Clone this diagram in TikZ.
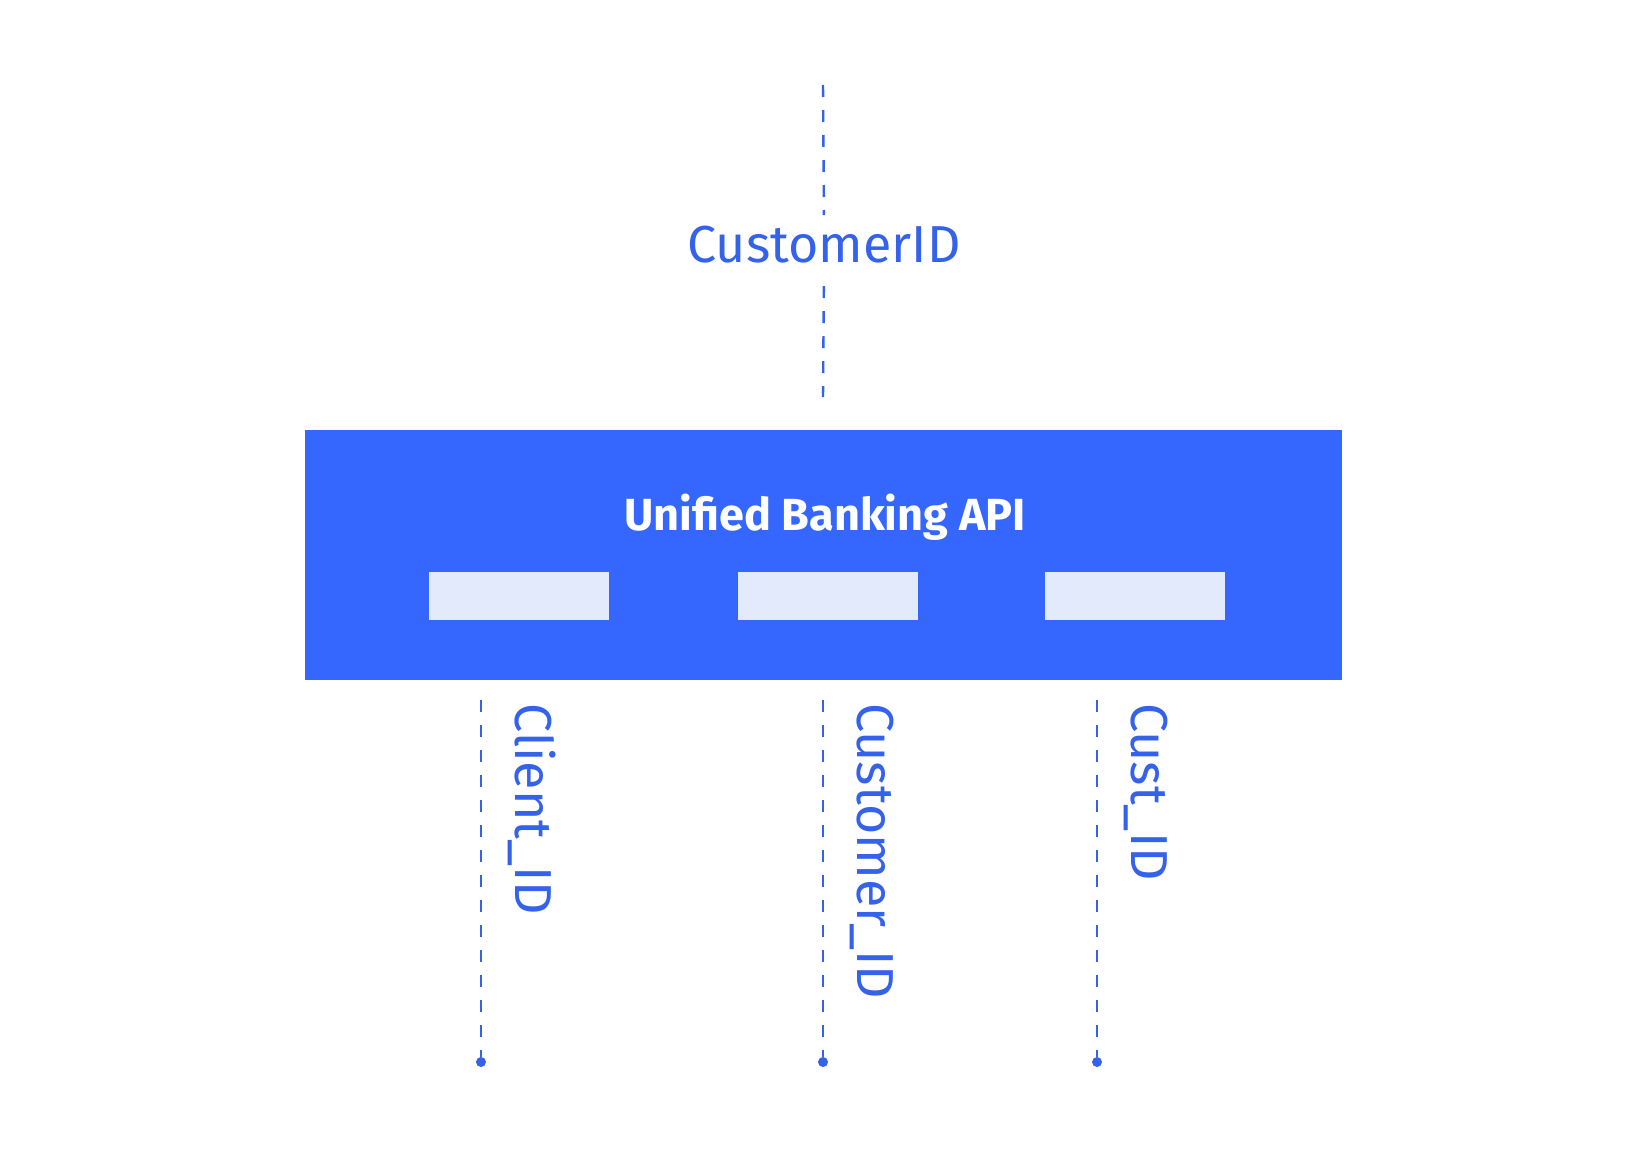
\documentclass[tikz,border=0pt]{standalone}
\usepackage{fontspec}
\setmainfont{Fira Sans}
\usetikzlibrary{positioning, calc}
\definecolor{apiblue}{HTML}{3567FF}
\definecolor{idblue}{HTML}{3462EA}
\definecolor{slotgray}{HTML}{E3EAFB}

\begin{document}
\begin{tikzpicture}[x=0.5pt, y=-0.5pt,
    idline/.style={draw=idblue, line width=1.2pt, dash pattern=on 6pt off 6.5pt},
    idlabel/.style={text=idblue, font=\fontsize{26}{31}\selectfont, inner sep=0pt},
    slot/.style={fill=slotgray, minimum width=90pt, minimum height=24pt, inner sep=0pt},
    enddot/.style={circle, fill=idblue, minimum size=5pt, inner sep=0pt}]
  \useasboundingbox (0,0) rectangle (1647,1151);
  % the API block
  \node[fill=apiblue, minimum width=518.5pt, minimum height=125pt, inner sep=0pt] (api) at (823.5,555) {};
  \node[anchor=base, text=white, inner sep=0pt, font=\bfseries\fontsize{22.5}{27}\selectfont] (title) at (825,530) {Unified Banking API};
  \node[slot] (slotA) at (519,596) {};
  \node[slot] (slotB) at (828,596) {};
  \node[slot] (slotC) at (1135,596) {};
  % incoming id
  \coordinate (feedtop) at (823,85);
  \coordinate (feedbot) at (823,397);
  \node[idlabel, anchor=base] (custid) at (824,262) {CustomerID};
  \draw[idline, shorten >=5pt] (feedtop) -- (custid.north);
  \draw[idline, shorten <=11.5pt] (custid.south) -- (feedbot);
  % outgoing ids
  \foreach \x/\name/\txt in {481/client/Client\_ID, 823/customer/Customer\_ID, 1097/cust/Cust\_ID} {
    \coordinate (\name top) at (\x,700);
    \node[enddot] (\name dot) at (\x,1062) {};
    \draw[idline] (\name top) -- (\name dot);
    \node[idlabel, rotate=-90, anchor=base west] (\name lbl) at (\x+34,703) {\txt};
  }
\end{tikzpicture}
\end{document}
